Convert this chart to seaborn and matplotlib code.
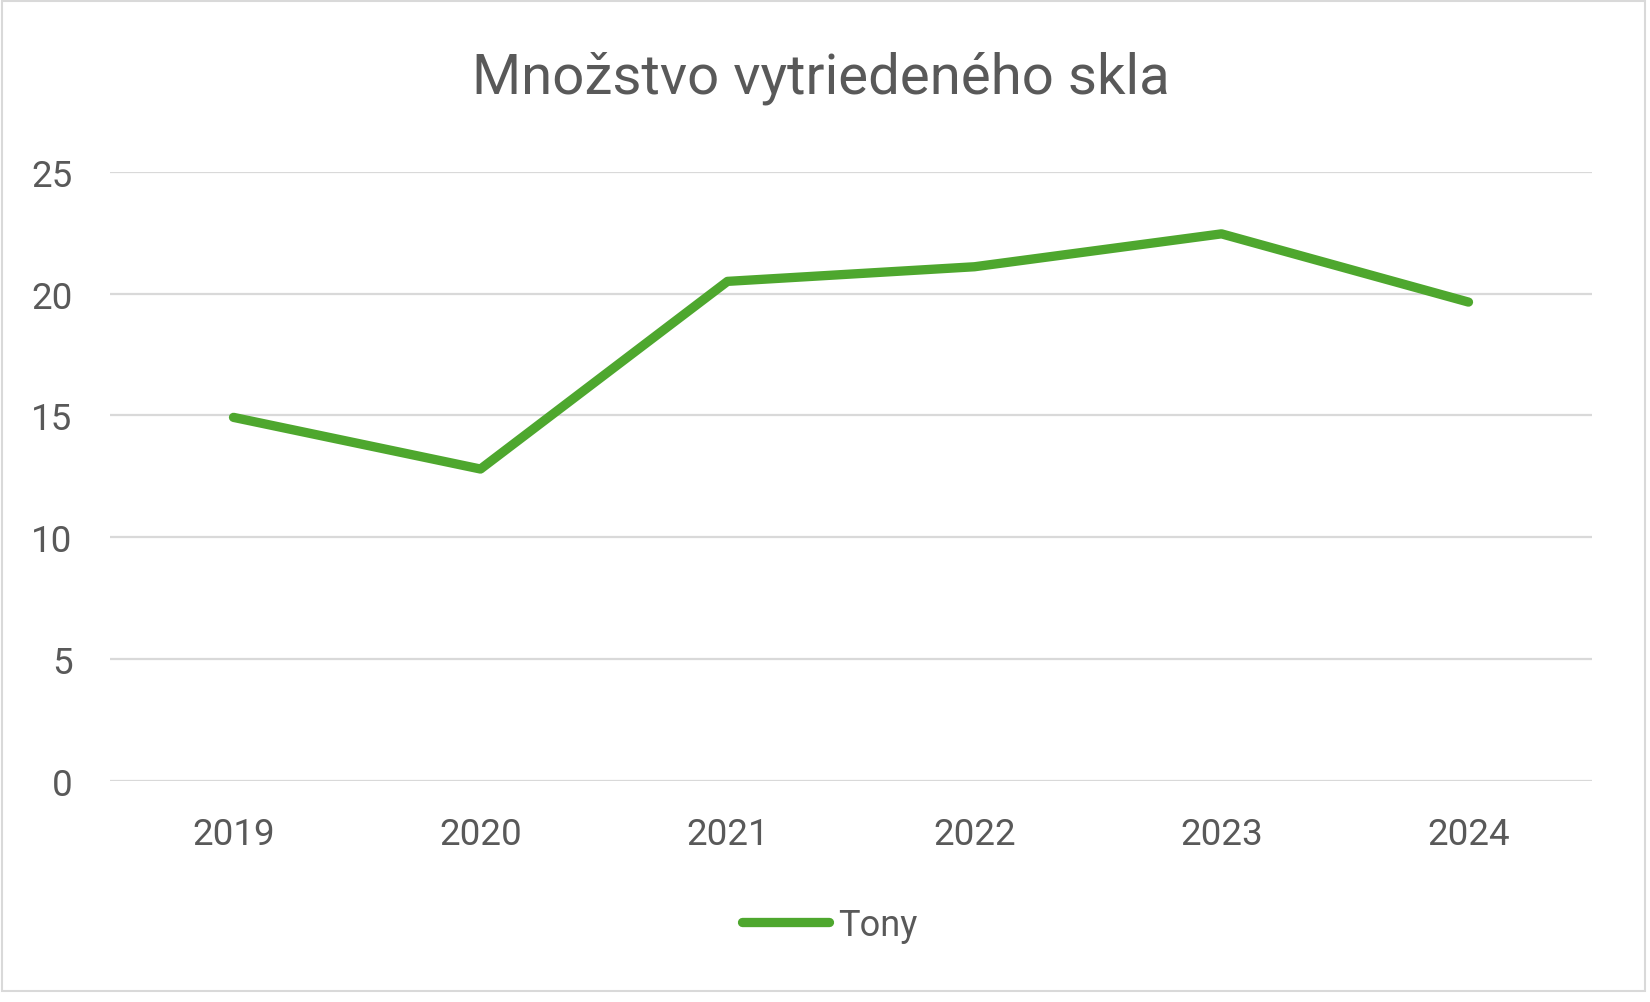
import matplotlib
matplotlib.use("Agg")
import matplotlib.pyplot as plt
import seaborn as sns
import pandas as pd
from matplotlib.patches import Rectangle

years = ["2019", "2020", "2021", "2022", "2023", "2024"]
tony = [14.92, 12.8, 20.5, 21.1, 22.45, 19.65]
title = "Množstvo vytriedeného skla"
series_name = "Tony"
y_ticks = [0, 5, 10, 15, 20, 25]

sns.set_theme(style="white")
plt.rcParams['font.family'] = ['Roboto', 'DejaVu Sans']

df = pd.DataFrame({"Rok": years, series_name: tony})

W, H = 1650, 1003
fig = plt.figure(figsize=(W / 100, H / 100), dpi=100)
fig.patch.set_facecolor("white")

ax = fig.add_axes([110 / W, 1 - 782 / H, (1592 - 110) / W, (782 - 172.7) / H])
sns.lineplot(data=df, x="Rok", y=series_name, ax=ax, color="#4EA72E",
             linewidth=6.7, solid_capstyle="round", solid_joinstyle="round",
             label=series_name, legend=False, sort=False)

ax.set_xlim(-0.5, len(years) - 0.5)
ax.set_ylim(0, 25)
ax.set_yticks(y_ticks)
ax.set_yticklabels([str(v) for v in y_ticks])
ax.yaxis.grid(True, color="#D9D9D9", linewidth=1.6)
ax.xaxis.grid(False)
ax.set_axisbelow(True)
for s in ax.spines.values():
    s.set_visible(False)
ax.tick_params(axis="y", length=0, pad=27, labelsize=26.5, labelcolor="#595959")
ax.tick_params(axis="x", length=0, pad=25, labelsize=26.5, labelcolor="#595959")
ax.set_xlabel("")
ax.set_ylabel("")

fig.text(0.4974, 1 - 78 / H, title, ha="center", va="center", fontsize=40.6, color="#595959")

handles, labels = ax.get_legend_handles_labels()
leg = fig.legend(handles, labels, loc="center", bbox_to_anchor=(830 / W, 1 - 926 / H),
                 frameon=False, fontsize=26, handlelength=2.4, handletextpad=0.25,
                 labelcolor="#595959")
for l in leg.get_lines():
    l.set_linewidth(6.7)
    l.set_solid_capstyle("round")

fig.patches.append(Rectangle((2 / W, 1 - 992 / H), (1645 - 2) / W, (992 - 2) / H,
                             transform=fig.transFigure, fill=False,
                             edgecolor="#D9D9D9", linewidth=1.5))

fig.savefig("out.png", dpi=100, facecolor="white")
